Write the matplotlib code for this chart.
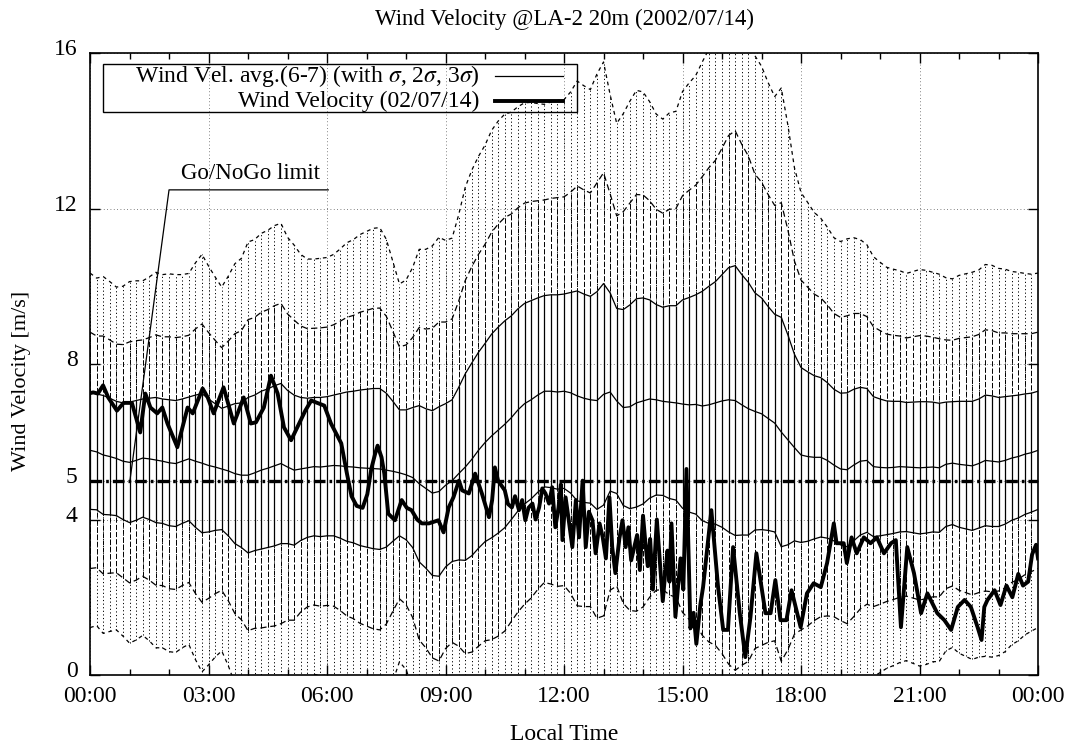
import numpy as np
import matplotlib
matplotlib.use('Agg')
import matplotlib.pyplot as plt
from matplotlib.patches import Rectangle
from matplotlib.transforms import ScaledTranslation

plt.rcParams['font.family'] = ['Liberation Serif', 'DejaVu Serif']
plt.rcParams['mathtext.fontset'] = 'stix'

# 10-minute averaged wind (June-July), mean and sigma, 00:00 .. 24:00
mean_v = [
    5.78, 5.74, 5.66, 5.62, 5.57, 5.50,
    5.47, 5.52, 5.58, 5.56, 5.53, 5.50,
    5.46, 5.44, 5.50, 5.56, 5.50, 5.45,
    5.39, 5.35, 5.30, 5.25, 5.18, 5.14,
    5.14, 5.20, 5.27, 5.32, 5.38, 5.44,
    5.35, 5.27, 5.30, 5.33, 5.36, 5.35,
    5.37, 5.39, 5.38, 5.36, 5.35, 5.33,
    5.32, 5.31, 5.30, 5.27, 5.24, 5.20,
    5.15, 5.08, 4.92, 4.80, 4.68, 4.72,
    4.88, 5.00, 5.18, 5.35, 5.55, 5.78,
    5.98, 6.15, 6.30, 6.45, 6.62, 6.82,
    6.98, 7.08, 7.20, 7.30, 7.30, 7.28,
    7.30, 7.26, 7.18, 7.12, 7.08, 7.06,
    7.22, 7.28, 7.05, 6.88, 6.90, 7.00,
    7.05, 7.10, 7.08, 7.04, 7.02, 7.00,
    6.97, 6.95, 6.96, 6.92, 6.95, 7.00,
    7.05, 7.08, 7.06, 6.95, 6.85, 6.78,
    6.72, 6.60, 6.48, 6.25, 6.05, 5.85,
    5.66, 5.62, 5.60, 5.60, 5.52, 5.40,
    5.30, 5.28, 5.40, 5.50, 5.52, 5.36,
    5.34, 5.33, 5.34, 5.36, 5.35, 5.34,
    5.33, 5.34, 5.35, 5.33, 5.42, 5.45,
    5.42, 5.40, 5.38, 5.44, 5.52, 5.50,
    5.48, 5.52, 5.58, 5.62, 5.68, 5.72,
    5.78,
]
sigma_v = [
    1.52, 1.49, 1.53, 1.50, 1.47, 1.50,
    1.55, 1.54, 1.52, 1.56, 1.61, 1.60,
    1.62, 1.62, 1.60, 1.59, 1.70, 1.79,
    1.71, 1.63, 1.56, 1.67, 1.80, 1.86,
    2.00, 2.00, 2.03, 2.04, 2.06, 2.06,
    1.97, 1.93, 1.84, 1.79, 1.78, 1.79,
    1.79, 1.81, 1.86, 1.92, 1.95, 2.00,
    2.03, 2.06, 2.07, 1.98, 1.80, 1.62,
    1.67, 1.80, 2.01, 2.05, 2.12, 2.18,
    2.10, 2.08, 2.22, 2.40, 2.48, 2.52,
    2.55, 2.62, 2.65, 2.66, 2.62, 2.60,
    2.58, 2.55, 2.50, 2.46, 2.48, 2.50,
    2.50, 2.58, 2.70, 2.68, 2.66, 2.80,
    2.85, 2.55, 2.38, 2.52, 2.62, 2.68,
    2.65, 2.55, 2.45, 2.42, 2.48, 2.50,
    2.68, 2.76, 2.82, 2.95, 3.05, 3.12,
    3.25, 3.40, 3.47, 3.35, 3.25, 3.05,
    2.98, 2.88, 2.80, 2.95, 2.70, 2.40,
    2.25, 2.18, 2.10, 2.05, 2.00, 1.95,
    1.95, 1.98, 1.95, 1.90, 1.85, 1.80,
    1.76, 1.72, 1.70, 1.68, 1.66, 1.68,
    1.70, 1.69, 1.67, 1.66, 1.60, 1.58,
    1.62, 1.64, 1.66, 1.66, 1.68, 1.68,
    1.66, 1.64, 1.60, 1.58, 1.55, 1.53,
    1.52,
]

# observed wind on 2002/07/14 (hour of day, m/s)
wind_t = [0.0, 0.08, 0.2, 0.33, 0.46, 0.68, 0.85, 1.06, 1.27, 1.4, 1.53, 1.7, 1.83, 1.96,
          2.21, 2.47, 2.6, 2.85, 2.98, 3.13, 3.38, 3.64, 3.89, 4.07, 4.2, 4.4, 4.58, 4.75,
          4.91, 5.09, 5.27, 5.45, 5.6, 5.93, 6.1, 6.36, 6.5, 6.62, 6.75, 6.9, 7.02, 7.12,
          7.22, 7.28, 7.38, 7.45, 7.55, 7.72, 7.89, 8.02, 8.14, 8.28, 8.4, 8.58, 8.82, 8.95,
          9.08, 9.2, 9.34, 9.42, 9.59, 9.75, 9.92, 10.1, 10.18, 10.25, 10.33, 10.5, 10.58,
          10.68, 10.76, 10.86, 10.94, 11.02, 11.1, 11.2, 11.28, 11.37, 11.45, 11.53, 11.62,
          11.7, 11.78, 11.86, 11.92, 11.96, 12.04, 12.12, 12.21, 12.3, 12.38, 12.47, 12.55,
          12.63, 12.72, 12.8, 12.9, 12.98, 13.06, 13.15, 13.22, 13.3, 13.4, 13.48, 13.56,
          13.63, 13.7, 13.78, 13.85, 13.92, 14.0, 14.06, 14.12, 14.18, 14.25, 14.35, 14.42,
          14.5, 14.56, 14.62, 14.67, 14.72, 14.82, 14.88, 14.95, 15.02, 15.1, 15.2, 15.28,
          15.35, 15.45, 15.52, 15.73, 15.9, 16.03, 16.15, 16.28, 16.45, 16.59,
          16.72, 16.87, 17.1, 17.23, 17.35, 17.48, 17.63, 17.76, 17.99, 18.15, 18.32, 18.5,
          18.66, 18.83, 18.9, 19.08, 19.16, 19.28, 19.41, 19.59, 19.76, 19.92, 20.1, 20.28,
          20.4, 20.53, 20.69, 20.86, 21.04, 21.2, 21.45, 21.63, 21.8, 21.97, 22.14, 22.3,
          22.47, 22.57, 22.64, 22.72, 22.9, 23.05, 23.2, 23.35, 23.5, 23.62, 23.75, 23.85,
          23.95, 24.0]
wind_v = [7.25, 7.27, 7.24, 7.45, 7.14, 6.8, 7.0, 7.0, 6.24, 7.24, 6.88, 6.73, 6.88, 6.47,
          5.86, 6.88, 6.73, 7.37, 7.14, 6.73, 7.4, 6.47, 7.14, 6.47, 6.5, 6.88, 7.7, 7.24,
          6.37, 6.04, 6.42, 6.8, 7.06, 6.93, 6.47, 5.96, 5.2, 4.6, 4.35, 4.3, 4.65, 5.3,
          5.7, 5.9, 5.6, 5.18, 4.15, 3.98, 4.5, 4.3, 4.24, 4.0, 3.9, 3.9, 3.98, 3.67,
          4.31, 4.57, 5.0, 4.75, 4.67, 5.18, 4.67, 4.06, 4.5, 5.34, 5.0, 4.75, 4.4,
          4.31, 4.6, 4.24, 4.5, 3.98, 4.3, 4.41, 4.0, 4.31, 4.8, 4.67, 4.41,
          4.83, 3.8, 4.3, 4.9, 3.47, 4.57, 3.98, 3.29, 4.5, 3.54, 5.0, 3.29,
          4.2, 3.98, 3.13, 3.9, 3.54, 3.0, 4.57, 3.29, 2.62, 3.5, 3.98, 3.29,
          3.8, 2.95, 3.3, 3.6, 2.7, 4.1, 3.4, 2.8, 3.5, 2.2, 4.0, 3.0,
          1.9, 2.6, 3.2, 2.4, 3.9, 1.5, 2.2, 3.0, 2.2, 5.3, 1.2, 1.6,
          0.8, 1.8, 2.26, 4.24, 2.26, 1.16, 1.16, 3.29, 1.59, 0.46,
          1.49, 3.13, 1.59, 1.59, 2.44, 1.41, 1.41, 2.18, 1.23, 2.1, 2.36, 2.26,
          2.88, 3.9, 3.39, 3.39, 2.88, 3.54, 3.13, 3.54, 3.39, 3.54, 3.13, 3.39,
          3.47, 1.23, 3.29, 2.62, 1.59, 2.1, 1.59, 1.41, 1.16, 1.75, 1.93, 1.75,
          1.23, 0.9, 1.75, 1.93, 2.18, 1.8, 2.3, 2.0, 2.6, 2.3, 2.4, 3.1,
          3.35, 3.0]

nogo_limit = 5.0
x_ticks = [0, 3, 6, 9, 12, 15, 18, 21, 24]
x_labels = ['00:00', '03:00', '06:00', '09:00', '12:00', '15:00', '18:00', '21:00', '00:00']
y_ticks = [0, 4, 5, 8, 12, 16]

t = np.arange(len(mean_v)) / 6.0
m = np.array(mean_v)
s = np.array(sigma_v)

fig = plt.figure(figsize=(10.77, 7.48), dpi=100)
ax = fig.add_axes([0.0836, 0.0976, 0.8802, 0.8315])

# sigma bands as vertical bars
ax.vlines(t, m - 3 * s, m + 3 * s, colors='k', linestyles=(0, (1.2, 2.5)), lw=0.7)
ax.vlines(t, m - 2 * s, m + 2 * s, colors='k', linestyles=(0, (5, 2.5)), lw=0.7)
ax.vlines(t, m - s, m + s, colors='k', lw=0.9)

for k, ls in [(3, (0, (3, 3))), (2, (0, (5, 3))), (1, '-')]:
    ax.plot(t, m + k * s, color='k', ls=ls, lw=0.9)
    ax.plot(t, m - k * s, color='k', ls=ls, lw=0.9)
ax.plot(t, m, color='k', lw=0.9)

ax.axhline(nogo_limit, color='k', lw=2.4, ls=(0, (3.5, 1.2, 0.8, 1.2)))
ax.plot(wind_t, wind_v, color='k', lw=2.8)

# Go/NoGo annotation
ax.plot([6.03, 2.0, 1.01], [12.48, 12.48, nogo_limit], color='k', lw=0.9)
ax.text(4.05, 12.62, 'Go/NoGo limit', ha='center', va='bottom', fontsize=16.5)

ax.set_xlim(0, 24)
ax.set_ylim(0, 16)
ax.set_xticks(x_ticks)
ax.set_xticklabels(x_labels)
ax.set_xticks(np.arange(0, 25, 1), minor=True)
ax.set_yticks(y_ticks)
ax.tick_params(which='both', direction='in', top=True, right=True, labelsize=17)
ax.tick_params(axis='x', pad=8)
ax.tick_params(axis='y', pad=9)
ax.tick_params(which='major', length=7, width=1)
ax.tick_params(which='minor', length=4, width=1)
ax.grid(True, which='major', color='0.35', ls=(0, (1, 3)), lw=0.6)
for sp in ax.spines.values():
    sp.set_linewidth(1.2)

# nudge y tick labels up a little, like gnuplot does
for lab in ax.get_yticklabels():
    lab.set_transform(lab.get_transform() + ScaledTranslation(0, 4 / 72, fig.dpi_scale_trans))

ax.set_xlabel('Local Time', fontsize=17, labelpad=12)
ax.set_ylabel('Wind Velocity [m/s]', fontsize=16)
ax.yaxis.set_label_coords(-0.062, 0.473)
ax.set_title('Wind Velocity @LA-2 20m (2002/07/14)', fontsize=16.5, pad=20)

# gnuplot style key
ax.add_patch(Rectangle((0.0137, 0.905), 0.5, 0.077, transform=ax.transAxes,
                       fill=False, ec='k', lw=1.0, zorder=10))
ax.text(0.411, 0.963, r'Wind Vel. avg.(6-7) (with $\sigma$, 2$\sigma$, 3$\sigma$)',
        transform=ax.transAxes, ha='right', va='center', fontsize=17, zorder=11)
ax.text(0.411, 0.923, 'Wind Velocity (02/07/14)', transform=ax.transAxes,
        ha='right', va='center', fontsize=17, zorder=11)
ax.plot([0.427, 0.499], [0.963, 0.963], transform=ax.transAxes, color='k', lw=0.9, zorder=11)
ax.plot([0.427, 0.499], [0.923, 0.923], transform=ax.transAxes, color='k', lw=2.8, zorder=11)

fig.savefig('out.png', dpi=100)
